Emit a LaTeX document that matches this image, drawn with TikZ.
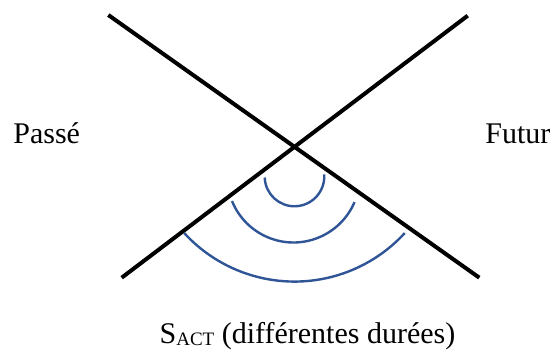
\documentclass[tikz,border=0pt]{standalone}
\usepackage{fontspec}
\setmainfont{Liberation Serif}
\definecolor{arcblue}{HTML}{2F5597}
\begin{document}
\begin{tikzpicture}[x=0.5pt,y=0.5pt,
    cone/.style={line width=2pt,black},
    wave/.style={line width=1.2pt,arcblue},
    txt/.style={font=\fontsize{15}{18}\selectfont,inner sep=0pt}]
    \useasboundingbox (0,0) rectangle (554,352);

    % the two crossing lines
    \coordinate (tl) at (108.3,337);
    \coordinate (br) at (479.3,74.3);
    \coordinate (tr) at (467.7,336.3);
    \coordinate (bl) at (121.7,74.3);
    \draw[cone] (tl)--(br);
    \draw[cone] (tr)--(bl);

    % arcs
    \coordinate (c1) at (294.5,175.5);
    \coordinate (c2) at (293.5,175.8);
    \coordinate (c3) at (294.5,220);
    \draw[wave] ([shift={(182:29.8)}]c1) arc (182:364:29.8);
    \draw[wave] ([shift={(202:66.3)}]c2) arc (202:337:66.3);
    \draw[wave] ([shift={(222.5:149.6)}]c3) arc (222.5:317.5:149.6);

    \node[txt,anchor=base west] (passe) at (13,208) {Passé};
    \node[txt,anchor=base west] (futur) at (485,208) {Futur};
    \node[txt,anchor=base] (sact) at (307.5,8)
        {S\raisebox{-1pt}{\fontsize{9.5}{10}\selectfont ACT} (différentes durées)};
\end{tikzpicture}
\end{document}
